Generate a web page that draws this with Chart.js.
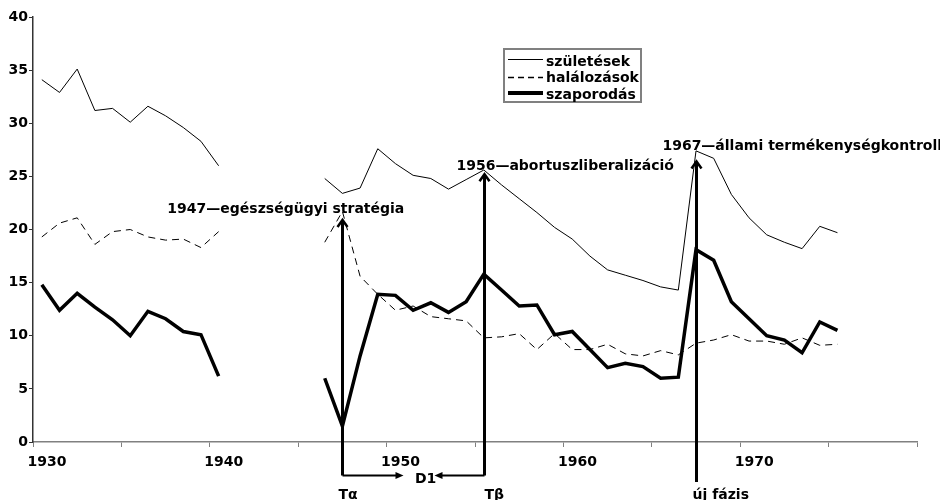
<!DOCTYPE html>
<html>
<head>
<meta charset="utf-8">
<script src="https://cdn.jsdelivr.net/npm/chart.js@4"></script>
<style>
  html, body { margin: 0; padding: 0; background: #fff; }
</style>
</head>
<body>
<canvas id="chart" width="940" height="500"></canvas>
<script>
// yearly values, gap for the war years
const years = [1930, 1931, 1932, 1933, 1934, 1935, 1936, 1937, 1938, 1939, 1940,
  1941, 1942, 1943, 1944, 1945,
  1946, 1947, 1948, 1949, 1950, 1951, 1952, 1953, 1954, 1955, 1956, 1957, 1958, 1959, 1960,
  1961, 1962, 1963, 1964, 1965, 1966, 1967, 1968, 1969, 1970, 1971, 1972, 1973, 1974, 1975];

const births = [34.1, 32.9, 35.1, 31.2, 31.4, 30.1, 31.6, 30.7, 29.6, 28.3, 26.0,
  null, null, null, null, null,
  24.8, 23.4, 23.9, 27.6, 26.2, 25.1, 24.8, 23.8, 24.7, 25.6, 24.2, 22.9, 21.6, 20.2, 19.1,
  17.5, 16.2, 15.7, 15.2, 14.6, 14.3, 27.4, 26.7, 23.3, 21.1, 19.5, 18.8, 18.2, 20.3, 19.7];

const deaths = [19.3, 20.6, 21.1, 18.6, 19.8, 20.0, 19.3, 19.0, 19.1, 18.3, 19.8,
  null, null, null, null, null,
  18.8, 21.7, 15.6, 13.9, 12.4, 12.8, 11.8, 11.6, 11.4, 9.8, 9.9, 10.2, 8.7, 10.2, 8.7,
  8.7, 9.2, 8.3, 8.1, 8.6, 8.2, 9.3, 9.6, 10.1, 9.5, 9.5, 9.2, 9.8, 9.1, 9.2];

const increase = [14.8, 12.4, 14.0, 12.7, 11.5, 10.0, 12.3, 11.6, 10.4, 10.1, 6.2,
  null, null, null, null, null,
  6.0, 1.5, 8.1, 13.9, 13.8, 12.4, 13.1, 12.2, 13.2, 15.8, 14.3, 12.8, 12.9, 10.1, 10.4,
  8.7, 7.0, 7.4, 7.1, 6.0, 6.1, 18.1, 17.1, 13.2, 11.6, 10.0, 9.6, 8.4, 11.3, 10.5];

const seriesNames = ['születések', 'halálozások', 'szaporodás'];

// events: year of the arrow, value where the arrow tip sits, label and where it starts
const events = [
  { year: 1947, tip: 20.9, text: '1947\u2014egészségügyi stratégia', tx: 1937.6, ty: 21.9, foot: 'T\u03b1', footDx: -4, base: 33.5 },
  { year: 1955, tip: 25.2, text: '1956\u2014abortuszliberalizáció', tx: 1953.95, ty: 25.9, foot: 'T\u03b2', footDx: 0, base: 33.5 },
  { year: 1967, tip: 26.4, text: '1967\u2014állami termékenységkontroll', tx: 1965.6, ty: 27.8, foot: 'új fázis', footDx: -4, base: 40 }
];

const FONT = 'bold 14px "DejaVu Sans", Verdana, sans-serif';
const SLOT = 0.5; // points sit in the middle of each yearly slot

const pts = arr => years.map((y, i) => ({ x: y + SLOT, y: arr[i] }));

function chevron(ctx, x, y) {
  ctx.beginPath();
  ctx.moveTo(x - 5, y + 7);
  ctx.lineTo(x, y);
  ctx.lineTo(x + 5, y + 7);
  ctx.stroke();
}

function solidHead(ctx, x, y, dir) {
  ctx.beginPath();
  ctx.moveTo(x, y);
  ctx.lineTo(x - dir * 8, y - 3.5);
  ctx.lineTo(x - dir * 8, y + 3.5);
  ctx.closePath();
  ctx.fill();
}

const extras = {
  id: 'extras',
  afterDraw(chart) {
    const ctx = chart.ctx;
    const xs = chart.scales.x, ys = chart.scales.y;
    const bottom = chart.chartArea.bottom;
    ctx.save();
    ctx.fillStyle = '#000';
    ctx.strokeStyle = '#000';
    ctx.font = FONT;
    ctx.textBaseline = 'middle';
    ctx.textAlign = 'left';

    const ax = [];
    events.forEach(ev => {
      const x = Math.round(xs.getPixelForValue(ev.year + SLOT)) + 0.5;
      ax.push(x);
      const top = ys.getPixelForValue(ev.tip);
      ctx.lineWidth = 3;
      ctx.beginPath();
      ctx.moveTo(x, bottom + ev.base);
      ctx.lineTo(x, top + 1);
      ctx.stroke();
      ctx.lineWidth = 2.5;
      chevron(ctx, x, top);
      ctx.fillText(ev.text, xs.getPixelForValue(ev.tx), ys.getPixelForValue(ev.ty));
      ctx.textBaseline = 'top';
      ctx.fillText(ev.foot, x + ev.footDx, bottom + 46);
      ctx.textBaseline = 'middle';
    });

    // D1 bracket between the first two arrows
    const yb = bottom + 33.5;
    ctx.lineWidth = 2;
    ctx.beginPath();
    ctx.moveTo(ax[0], yb);
    ctx.lineTo(ax[0] + 54, yb);
    ctx.moveTo(ax[1], yb);
    ctx.lineTo(ax[1] - 43, yb);
    ctx.stroke();
    solidHead(ctx, ax[0] + 61, yb, 1);
    solidHead(ctx, ax[1] - 50, yb, -1);
    ctx.fillText('D1', 415, bottom + 37);

    // legend box
    const lx = 504, ly = 49, lw = 137, lh = 53;
    ctx.strokeStyle = '#808080';
    ctx.lineWidth = 2;
    ctx.strokeRect(lx, ly, lw, lh);
    ctx.strokeStyle = '#000';
    const styles = [[1, []], [1.5, [6, 4]], [4, []]];
    const rowsLine = [59.5, 77.5, 93];
    const rowsText = [62, 78.5, 95];
    seriesNames.forEach((name, i) => {
      ctx.lineWidth = styles[i][0];
      ctx.setLineDash(styles[i][1]);
      ctx.beginPath();
      ctx.moveTo(lx + 4, rowsLine[i]);
      ctx.lineTo(lx + 39, rowsLine[i]);
      ctx.stroke();
      ctx.setLineDash([]);
      ctx.fillText(name, lx + 42, rowsText[i]);
    });
    ctx.restore();
  }
};

const tickFont = { family: '"DejaVu Sans", Verdana, sans-serif', size: 14, weight: 'bold' };

new Chart(document.getElementById('chart'), {
  type: 'line',
  data: {
    datasets: [
      { label: seriesNames[0], data: pts(births), borderColor: '#000', borderWidth: 1 },
      { label: seriesNames[1], data: pts(deaths), borderColor: '#000', borderWidth: 1, borderDash: [7, 5] },
      { label: seriesNames[2], data: pts(increase), borderColor: '#000', borderWidth: 3.5 }
    ]
  },
  options: {
    responsive: false,
    animation: false,
    spanGaps: false,
    elements: { point: { radius: 0 }, line: { tension: 0, borderJoinStyle: 'miter' } },
    layout: { padding: { top: 17, right: 23, left: 0, bottom: 0 } },
    plugins: { legend: { display: false }, tooltip: { enabled: false } },
    scales: {
      x: {
        type: 'linear', min: 1930, max: 1980,
        afterFit: s => { s.height = 58; },
        afterBuildTicks: s => {
          s.ticks = [];
          for (let v = 1930; v <= 1980; v += 5) s.ticks.push({ value: v });
        },
        ticks: {
          color: '#000', font: tickFont, padding: 7, labelOffset: 14, maxRotation: 0, autoSkip: false,
          callback: v => (v % 10 === 0 && v < 1980) ? String(v) : ''
        },
        grid: { drawOnChartArea: false, tickLength: 5, color: '#808080' },
        border: { color: '#808080', width: 1.5 }
      },
      y: {
        min: 0, max: 40,
        afterFit: s => { s.width = 33; },
        ticks: { stepSize: 5, color: '#000', font: tickFont, padding: 1 },
        grid: { drawOnChartArea: false, tickLength: 4, color: '#333' },
        border: { color: '#333', width: 1.5 }
      }
    }
  },
  plugins: [extras]
});
</script>
</body>
</html>
